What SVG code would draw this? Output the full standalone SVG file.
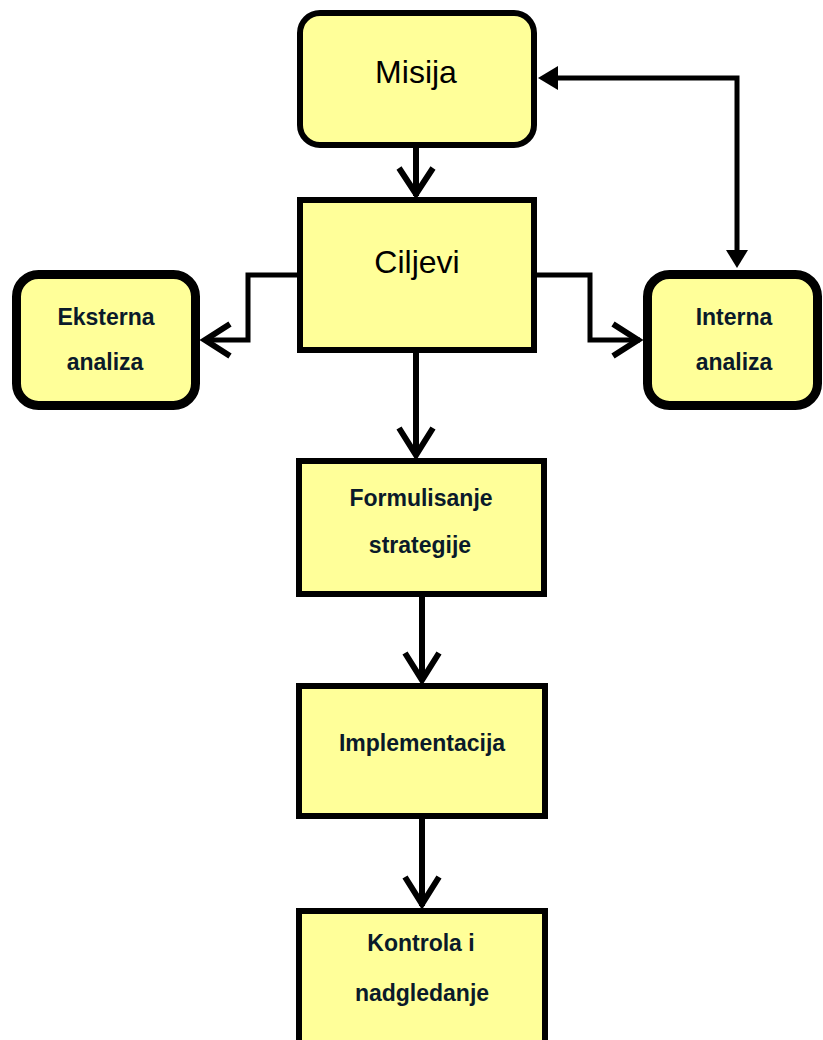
<svg xmlns="http://www.w3.org/2000/svg" width="823" height="1040" viewBox="0 0 823 1040">
<style>
.box{fill:#FFFF99;stroke:#000;stroke-width:6}
.thick{stroke-width:9}
.big{font-family:"Liberation Sans",Arial,sans-serif;font-size:32px;fill:#000;text-anchor:middle}
.sm{font-family:"Liberation Sans",Arial,sans-serif;font-size:23px;font-weight:bold;fill:#0a1a2a;text-anchor:middle}
.ln{fill:none;stroke:#000;stroke-width:6;stroke-linejoin:miter}
.ln2{fill:none;stroke:#000;stroke-width:5}
.tri{fill:#000}
</style>
<rect width="823" height="1040" fill="#fff"/>
<g id="connectors">
<line class="ln" x1="416" y1="148" x2="416" y2="196"/>
<polyline class="ln" points="399,168 416,194 433,168"/>
<polyline class="ln2" points="297,275 248,275 248,340 204,340"/>
<polyline class="ln" points="230,324 205,340 230,356"/>
<polyline class="ln2" points="537,275 590,275 590,340 640,340"/>
<polyline class="ln" points="613,324 638,340 613,356"/>
<polyline class="ln2" points="737,252 737,78 555,78"/>
<polygon class="tri" points="538,78 558,66 558,90"/>
<polygon class="tri" points="737,268 726,250 748,250"/>
<line class="ln" x1="416" y1="353" x2="416" y2="456"/>
<polyline class="ln" points="399,428 416,455 433,428"/>
<line class="ln" x1="422" y1="597" x2="422" y2="681"/>
<polyline class="ln" points="405,653 422,680 439,653"/>
<line class="ln" x1="422" y1="819" x2="422" y2="906"/>
<polyline class="ln" points="405,877 422,904 439,877"/>
</g>
<g id="misija">
<rect class="box" x="300" y="13" width="234" height="132" rx="20"/>
<text class="big" x="416" y="83">Misija</text>
</g>
<g id="ciljevi">
<rect class="box" x="300" y="200" width="234" height="150"/>
<text class="big" x="417" y="273">Ciljevi</text>
</g>
<g id="eksterna">
<rect class="box thick" x="16.5" y="274.5" width="179" height="131" rx="22"/>
<text class="sm" x="106" y="325">Eksterna</text>
<text class="sm" x="105" y="370">analiza</text>
</g>
<g id="interna">
<rect class="box thick" x="647.5" y="274.5" width="170" height="131" rx="22"/>
<text class="sm" x="734" y="325">Interna</text>
<text class="sm" x="734" y="370">analiza</text>
</g>
<g id="formulisanje">
<rect class="box" x="299" y="461" width="245" height="133"/>
<text class="sm" x="421" y="506">Formulisanje</text>
<text class="sm" x="420" y="553">strategije</text>
</g>
<g id="implementacija">
<rect class="box" x="299" y="686" width="246" height="130"/>
<text class="sm" x="422" y="751">Implementacija</text>
</g>
<g id="kontrola">
<rect class="box" x="299" y="911" width="246" height="150"/>
<text class="sm" x="421" y="951">Kontrola i</text>
<text class="sm" x="422" y="1001">nadgledanje</text>
</g>
</svg>
